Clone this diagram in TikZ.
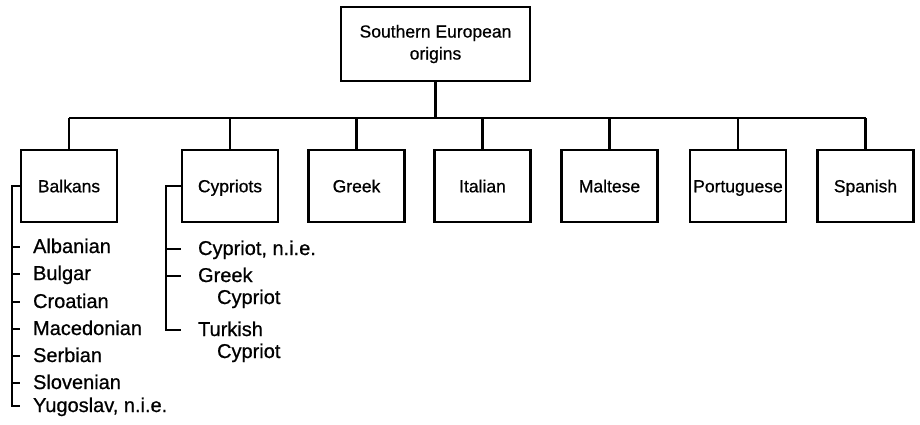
\documentclass[tikz,border=0pt]{standalone}
\usepackage{fontspec}
\setmainfont{Liberation Sans}
\newfontfamily\medfont{Liberation Sans}[FakeBold=0.7]
\begin{document}
\begin{tikzpicture}[x=1pt,y=-1pt,line width=2.2pt,
  box/.style={draw,minimum width=96pt,minimum height=72pt,inner sep=0pt,font=\medfont\fontsize{17.5}{22}\selectfont},
  cbox/.style={box,text height=12.5pt,text depth=0pt},
  item/.style={anchor=west,inner sep=0pt,text height=12pt,text depth=0pt,font=\medfont\fontsize{20}{24}\selectfont}]
\useasboundingbox (0,0) rectangle (920,424);
\node[box,minimum width=189pt,minimum height=74pt,align=center] (top) at (435.5,44) {Southern European\\origins};
\node[cbox] (bal) at (69,186) {Balkans};
\node[cbox] (cyp) at (230,186) {Cypriots};
\node[cbox] (gre) at (356.5,186) {Greek};
\node[cbox] (ita) at (482.5,186) {Italian};
\node[cbox] (mal) at (609.5,186) {Maltese};
\node[cbox] (por) at (738,186) {Portuguese};
\node[cbox] (spa) at (865.5,186) {Spanish};
\coordinate (bar) at (435.5,118);
\draw (top.south) -- (top.south |- bar);
\draw (bal.north |- bar) -- (spa.north |- bar);
\foreach \n in {bal,cyp,gre,ita,mal,por,spa} \draw (\n.north) -- (\n.north |- bar);
% Balkans list
\node[item] (alb) at (32,247) {Albanian};
\node[item] (bul) at (32,274) {Bulgar};
\node[item] (cro) at (32,302) {Croatian};
\node[item] (mac) at (32,329) {Macedonian};
\node[item] (ser) at (32,356) {Serbian};
\node[item] (slo) at (32,383) {Slovenian};
\node[item] (yug) at (32,406) {Yugoslav, n.i.e.};
\coordinate (bx) at (12,185);
\draw (bal.west) -| (bx |- yug.west) -- ++(8,0);
\foreach \n in {alb,bul,cro,mac,ser,slo} \draw (bx |- \n.west) -- ++(8,0);
% Cypriots list
\node[item] (cni) at (197,249) {Cypriot, n.i.e.};
\node[item] (gk) at (197,276) {Greek};
\node[item] (gkc) at (216,298) {Cypriot};
\node[item] (tur) at (197,330) {Turkish};
\node[item] (turc) at (216,352) {Cypriot};
\coordinate (cx) at (166,185);
\draw (cyp.west) -| (cx |- tur.west) -- ++(15,0);
\foreach \n in {cni,gk} \draw (cx |- \n.west) -- ++(15,0);
\end{tikzpicture}
\end{document}
